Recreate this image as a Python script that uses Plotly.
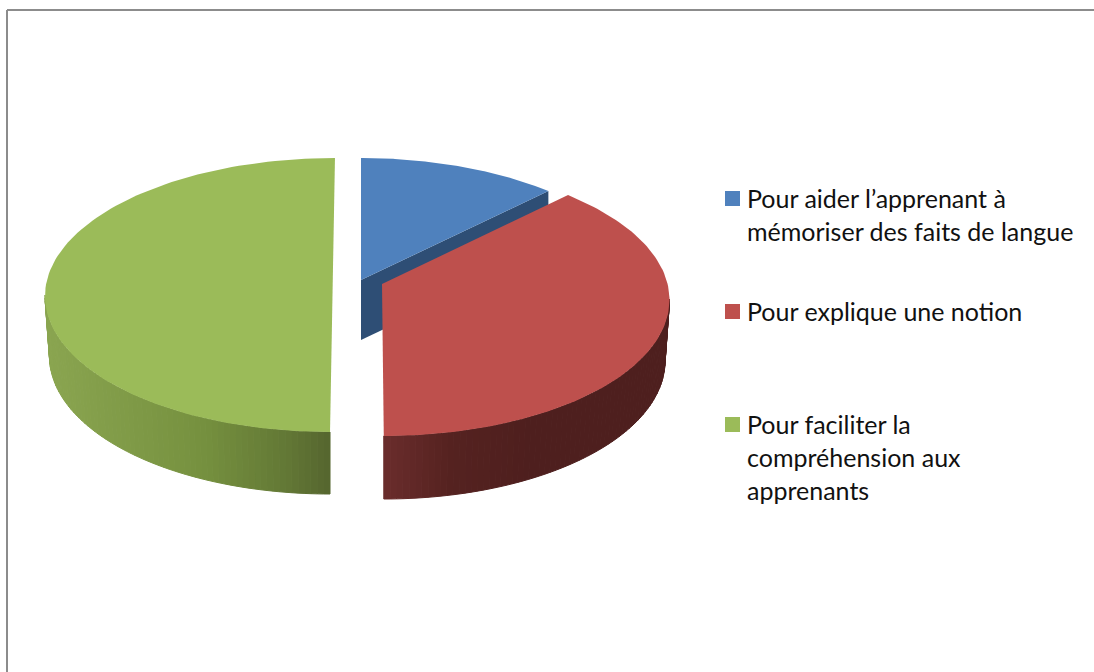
import math
import plotly.graph_objects as go

# ---- data ----
labels = ["Pour aider l’apprenant à mémoriser des faits de langue",
          "Pour explique une notion",
          "Pour faciliter la compréhension aux apprenants"]
values = [11.3, 38.7, 50.0]
legend_lines = [["Pour aider l’apprenant à", "mémoriser des faits de langue"],
                ["Pour explique une notion"],
                ["Pour faciliter la", "compréhension aux", "apprenants"]]

# ---- styles / layout ----
top_colors = ["#4F81BD", "#BE504D", "#9BBB59"]
cut_colors = ["#2E4E75", "#4E1F1E", "#56652E"]
side_stops = [None,
              [(384, (106, 45, 44)), (450, (85, 34, 32)), (530, (78, 31, 30)), (670, (78, 31, 30))],
              [(45, (138, 165, 80)), (200, (118, 145, 63)), (280, (100, 122, 54)), (331, (85, 101, 46))]]
cx = [361, 382, 332.5]
cy = [295, 299, 295]
apex_up = [15, 15, 12]
shear = [0.0, 0.013, -0.018]
depth = [60, 61, 60]
RX, RY = 287.5, 137
BRX, BRY = 283, 139
legend_x = 732.5
legend_y = [198.5, 311.5, 424.5]
text_x = 746
text_y = [[198, 231], [311], [424, 457, 490]]

fig = go.Figure()

def top_pt(i, deg):
    t = math.radians(deg)
    y = -RY * math.cos(t)
    return cx[i] + RX * math.sin(t) + shear[i] * y, cy[i] + y

def bot_pt(i, deg):
    t = math.radians(deg)
    y = -BRY * math.cos(t)
    return cx[i] + BRX * math.sin(t) + shear[i] * y, cy[i] + depth[i] + y

def fill(xs, ys, color, line=0):
    fig.add_trace(go.Scatter(x=xs, y=ys, mode="lines", fill="toself", fillcolor=color,
                             line=dict(color=color, width=line), hoverinfo="skip", showlegend=False))

def grad(stops, x):
    if x <= stops[0][0]:
        c = stops[0][1]
    elif x >= stops[-1][0]:
        c = stops[-1][1]
    else:
        for (x0, c0), (x1, c1) in zip(stops, stops[1:]):
            if x0 <= x <= x1:
                f = (x - x0) / (x1 - x0)
                c = tuple(a + (b - a) * f for a, b in zip(c0, c1))
                break
    return "rgb(%d,%d,%d)" % tuple(round(v) for v in c)

total = sum(values)
edges = [0]
for v in values:
    edges.append(edges[-1] + 360 * v / total)

def steps(a, b, n):
    return [a + (b - a) * k / n for k in range(n + 1)]

for i in (0, 2, 1):
    a, b = edges[i], edges[i + 1]
    ax = cx[i]
    ay = cy[i] - apex_up[i]
    # cut face of the first slice, seen through the gap
    if i == 0:
        ex, ey = top_pt(i, b)
        fill([ax, ex, ex, ax, ax], [ay, ey, ey + depth[i], ay + depth[i], ay], cut_colors[i])
    # outer wall: the part of the rim facing the viewer (90° to 270°)
    lo, hi = max(a, 90), min(b, 270)
    if lo < hi and side_stops[i]:
        n = 70
        angs = steps(lo, hi, n)
        for p, q in zip(angs, angs[1:]):
            x0, y0 = top_pt(i, p)
            x1, y1 = top_pt(i, q)
            x2, y2 = bot_pt(i, q)
            x3, y3 = bot_pt(i, p)
            fill([x0, x1, x2, x3, x0], [y0, y1, y2, y3, y0],
                 grad(side_stops[i], (x0 + x1) / 2), 1)
    # top face
    arc = [top_pt(i, d) for d in steps(a, b, 120)]
    xs = [ax] + [p[0] for p in arc] + [ax]
    ys = [ay] + [p[1] for p in arc] + [ay]
    if i == 2:  # half-disc: straight edge runs through the centre
        xs = [p[0] for p in arc] + [arc[0][0]]
        ys = [p[1] for p in arc] + [arc[0][1]]
    fill(xs, ys, top_colors[i])

# legend keys and texts
for i, name in enumerate(labels):
    fig.add_trace(go.Scatter(x=[legend_x], y=[legend_y[i]], mode="markers", name=name,
                             marker=dict(symbol="square", size=15, color=top_colors[i]),
                             showlegend=False))
    for line, y in zip(legend_lines[i], text_y[i]):
        fig.add_annotation(x=text_x, y=y, text=line, showarrow=False, xanchor="left",
                           yanchor="middle", borderpad=0,
                           font=dict(family="Lato", size=25, color="#111111"))

# chart frame
frame = dict(color="#8C8C8C", width=2)
fig.add_shape(type="line", x0=7, x1=1094, y0=10, y1=10, line=frame)
fig.add_shape(type="line", x0=7, x1=7, y0=10, y1=672, line=frame)

fig.update_layout(width=1094, height=672, margin=dict(l=0, r=0, t=0, b=0),
                  paper_bgcolor="white", plot_bgcolor="white", showlegend=False,
                  xaxis=dict(range=[0, 1094], visible=False),
                  yaxis=dict(range=[672, 0], visible=False))
fig.write_html("out.html", config=dict(displayModeBar=False),
               post_script="document.body.style.margin='0';document.body.style.overflow='hidden';")
